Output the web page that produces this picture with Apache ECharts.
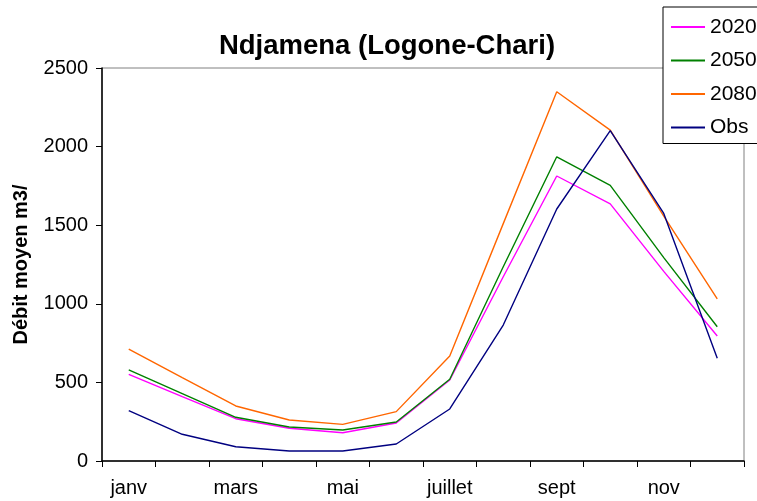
<!DOCTYPE html>
<html>
<head>
<meta charset="utf-8">
<script src="https://cdn.jsdelivr.net/npm/echarts@6/dist/echarts.min.js"></script>
<style>
  html, body { margin: 0; padding: 0; background: #fff; }
  #chart { width: 757px; height: 501px; }
</style>
</head>
<body>
<div id="chart"></div>
<script>
// Monthly mean discharge at Ndjamena (m3/s): scenarios and observations
const months = ['janv', 'févr', 'mars', 'avr', 'mai', 'juin', 'juillet', 'août', 'sept', 'oct', 'nov', 'déc'];
const q2020 = [551, 409, 269, 208, 180, 242, 515, 1172, 1813, 1636, 1206, 795];
const q2050 = [579, 428, 278, 216, 197, 248, 520, 1236, 1935, 1753, 1294, 854];
const q2080 = [712, 530, 350, 261, 233, 314, 668, 1510, 2349, 2105, 1558, 1032];
const qObs  = [320, 170, 91, 64, 64, 108, 331, 865, 1603, 2101, 1575, 653];
const yTicks = [0, 500, 1000, 1500, 2000, 2500];

const FONT = '"Liberation Sans", Arial, sans-serif';

const seriesDefs = [
  { name: '2020', data: q2020, color: '#FF00FF' },
  { name: '2050', data: q2050, color: '#008000' },
  { name: '2080', data: q2080, color: '#FF6600' },
  { name: 'Obs',  data: qObs,  color: '#000080' }
];

const chart = echarts.init(document.getElementById('chart'), null, { renderer: 'canvas' });

chart.setOption({
  animation: false,
  backgroundColor: '#ffffff',
  title: {
    text: 'Ndjamena (Logone-Chari)',
    left: 382,
    textAlign: 'center',
    top: 27,
    textStyle: { fontFamily: FONT, fontWeight: 'bold', fontSize: 27.5, color: '#000' }
  },
  legend: {
    orient: 'vertical',
    left: 663,
    top: 7,
    padding: [9, 40, 5, 8],
    itemGap: 11.5,
    itemWidth: 34,
    itemHeight: 2,
    icon: 'rect',
    borderColor: '#000',
    borderWidth: 1,
    backgroundColor: '#fff',
    textStyle: { fontFamily: FONT, fontSize: 21, color: '#000', lineHeight: 22 },
    data: seriesDefs.map(s => s.name)
  },
  grid: {
    left: 102,
    right: 13,
    top: 68,
    bottom: 40,
    show: true,
    borderColor: '#808080',
    borderWidth: 1,
    backgroundColor: 'transparent'
  },
  xAxis: {
    type: 'category',
    data: months,
    boundaryGap: true,
    axisLine: { lineStyle: { color: '#000', width: 1.5 } },
    axisTick: { show: true, length: 6, interval: 0, lineStyle: { color: '#000' } },
    axisLabel: {
      interval: 1,
      margin: 17,
      fontFamily: FONT,
      fontSize: 20,
      color: '#000'
    },
    splitLine: { show: false }
  },
  yAxis: {
    type: 'value',
    min: yTicks[0],
    max: yTicks[yTicks.length - 1],
    interval: yTicks[1] - yTicks[0],
    name: 'Débit moyen m3/s',
    nameLocation: 'middle',
    nameGap: 71,
    nameRotate: 90,
    nameTruncate: { maxWidth: 167, ellipsis: '' },
    nameTextStyle: {
      fontFamily: FONT,
      fontWeight: 'bold',
      fontSize: 20,
      color: '#000'
    },
    axisLine: { show: true, lineStyle: { color: '#000', width: 1.5 } },
    axisTick: { show: true, length: 6, lineStyle: { color: '#000' } },
    axisLabel: {
      margin: 14,
      fontFamily: FONT,
      fontSize: 20,
      color: '#000',
      formatter: v => String(v)
    },
    splitLine: { show: false }
  },
  series: seriesDefs.map(s => ({
    name: s.name,
    type: 'line',
    data: s.data,
    symbol: 'none',
    smooth: false,
    lineStyle: { color: s.color, width: 1.4 },
    itemStyle: { color: s.color }
  }))
});
</script>
</body>
</html>
